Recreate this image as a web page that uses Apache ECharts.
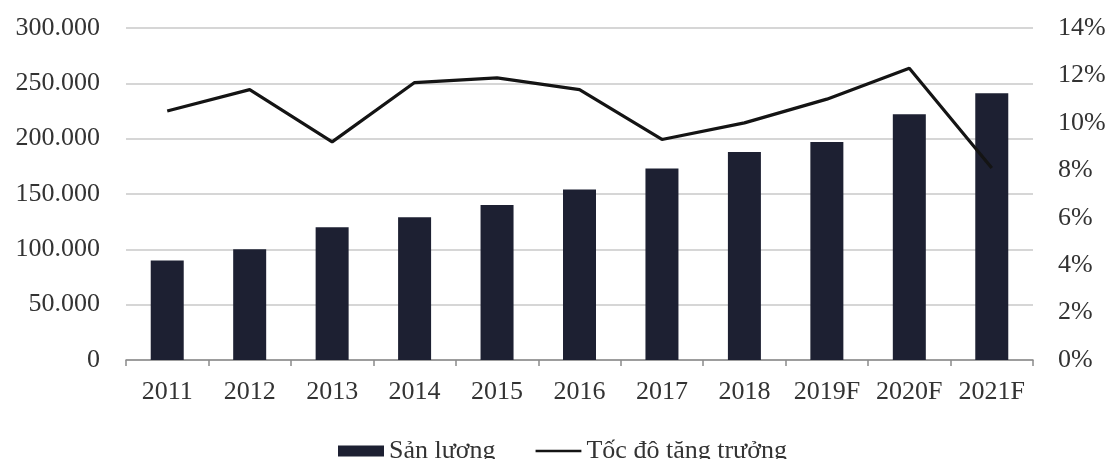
<!DOCTYPE html>
<html>
<head>
<meta charset="utf-8">
<script src="https://cdn.jsdelivr.net/npm/echarts@6/dist/echarts.min.js"></script>
<style>
  html, body { margin: 0; padding: 0; background: #fff; }
  #chart { width: 1109px; height: 459px; }
</style>
</head>
<body>
<div id="chart"></div>
<script>
// Sản lượng (cột) và tốc độ tăng trưởng (đường), 2011–2021F
const years = ['2011', '2012', '2013', '2014', '2015', '2016', '2017', '2018', '2019F', '2020F', '2021F'];
const sanLuong = [90000, 100000, 120000, 129000, 140000, 154000, 173000, 188000, 197000, 222000, 241000];
const tocDo = [10.5, 11.4, 9.2, 11.7, 11.9, 11.4, 9.3, 10.0, 11.0, 12.3, 8.1];
const leftTicks = { min: 0, max: 300000, step: 50000 };
const rightTicks = { min: 0, max: 14, step: 2 };

const fontFam = '"Liberation Serif", "DejaVu Serif", serif';
const textColor = '#333';

function dotThousands(v) {
  return String(v).replace(/\B(?=(\d{3})+(?!\d))/g, '.');
}

// thin horizontal stroke for the line legend entry; the tiny corner
// triangles only fix the icon's bounding box so the stroke stays thin
const lineIcon = 'path://M0,0L0.1,0L0.1,0.1Z M0,4.6L50,4.6L50,7.4L0,7.4Z M49.9,11.9L50,11.9L50,12Z';

const chart = echarts.init(document.getElementById('chart'), null, { renderer: 'canvas' });
chart.setOption({
  backgroundColor: '#fff',
  animation: false,
  textStyle: { fontFamily: fontFam },
  grid: { left: 126, right: 76, top: 28, bottom: 99 },
  legend: {
    left: 333,
    top: 433,
    itemGap: 40,
    itemWidth: 46,
    itemHeight: 11,
    textStyle: { fontFamily: fontFam, fontSize: 26, color: textColor },
    data: [
      { name: 'Sản lượng', icon: 'rect' },
      { name: 'Tốc độ tăng trưởng', icon: lineIcon }
    ]
  },
  xAxis: {
    type: 'category',
    data: years,
    boundaryGap: true,
    axisLine: { lineStyle: { color: '#8a8a8a', width: 1.5 } },
    axisTick: { show: true, length: 6, lineStyle: { color: '#8a8a8a', width: 1.5 } },
    axisLabel: { interval: 0, fontFamily: fontFam, fontSize: 26, color: textColor, margin: 19 }
  },
  yAxis: [
    {
      type: 'value',
      min: leftTicks.min, max: leftTicks.max, interval: leftTicks.step,
      axisLine: { show: false },
      axisTick: { show: false },
      splitLine: { lineStyle: { color: '#c8c8c8', width: 1.5 } },
      axisLabel: { fontFamily: fontFam, fontSize: 26, color: textColor, margin: 26, formatter: dotThousands }
    },
    {
      type: 'value',
      min: rightTicks.min, max: rightTicks.max, interval: rightTicks.step,
      axisLine: { show: false },
      axisTick: { show: false },
      splitLine: { show: false },
      axisLabel: { fontFamily: fontFam, fontSize: 26, color: textColor, margin: 25, formatter: '{value}%' }
    }
  ],
  series: [
    {
      name: 'Sản lượng',
      type: 'bar',
      yAxisIndex: 0,
      data: sanLuong,
      barWidth: 33,
      itemStyle: { color: '#1d2032' }
    },
    {
      name: 'Tốc độ tăng trưởng',
      type: 'line',
      yAxisIndex: 1,
      data: tocDo,
      symbol: 'none',
      lineStyle: { color: '#141414', width: 3.2 },
      itemStyle: { color: '#141414' },
      z: 5
    }
  ]
});
</script>
</body>
</html>
